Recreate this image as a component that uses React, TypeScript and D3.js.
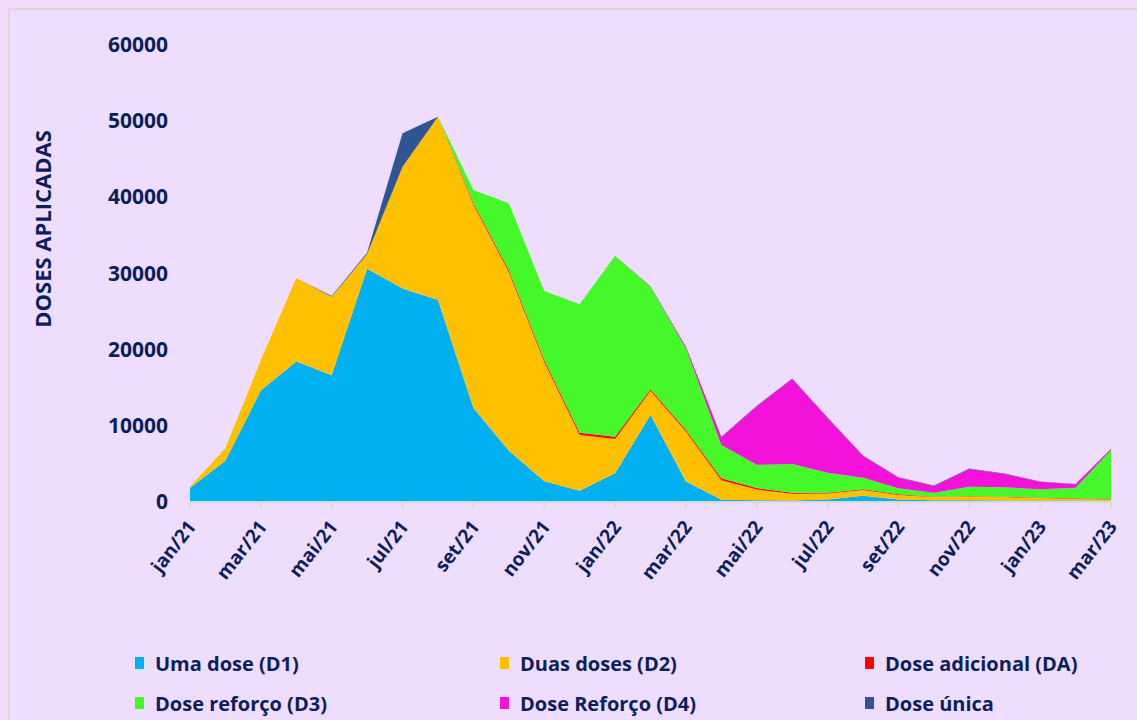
import React from "react";
import * as d3 from "d3";

const months = [
  "jan/21", "fev/21", "mar/21", "abr/21", "mai/21", "jun/21", "jul/21", "ago/21", "set/21",
  "out/21", "nov/21", "dez/21", "jan/22", "fev/22", "mar/22", "abr/22", "mai/22", "jun/22",
  "jul/22", "ago/22", "set/22", "out/22", "nov/22", "dez/22", "jan/23", "fev/23", "mar/23",
];

// doses per month
const umaDose = [1700, 5300, 14500, 18300, 16500, 30500, 27900, 26400, 12200, 6600, 2600, 1350, 3650, 11300, 2550, 150, 100, 80, 200, 700, 200, 100, 100, 80, 60, 50, 40];
const duasDoses = [180, 1620, 4000, 10940, 10330, 1930, 15990, 24060, 26690, 23480, 15660, 7320, 4490, 3170, 6570, 2580, 1400, 860, 790, 740, 600, 420, 510, 440, 320, 260, 150];
const doseAdicional = [0, 0, 0, 0, 0, 0, 0, 0, 200, 250, 250, 300, 300, 200, 200, 250, 200, 150, 100, 100, 80, 50, 50, 50, 40, 40, 30];
const doseReforco3 = [0, 0, 0, 0, 0, 0, 0, 0, 1740, 8760, 9060, 16860, 23770, 13470, 10730, 4370, 3050, 3770, 2630, 1520, 790, 520, 1220, 1230, 1110, 1400, 6480];
const doseReforco4 = [0, 0, 0, 0, 0, 0, 0, 0, 0, 0, 0, 0, 0, 50, 200, 1030, 7700, 11160, 7190, 2850, 1390, 880, 2320, 1745, 990, 440, 130];
const doseUnica = [0, 0, 0, 0, 100, 170, 4390, 0, 0, 0, 0, 0, 0, 0, 0, 60, 60, 60, 60, 50, 50, 50, 60, 50, 50, 40, 40];

const yTicks = [0, 10000, 20000, 30000, 40000, 50000, 60000];

const series = [
  { key: "d1", label: "Uma dose (D1)", color: "#00B0F0", values: umaDose },
  { key: "d2", label: "Duas doses (D2)", color: "#FFC000", values: duasDoses },
  { key: "da", label: "Dose adicional (DA)", color: "#FF0000", values: doseAdicional },
  { key: "d3", label: "Dose reforço (D3)", color: "#44F82A", values: doseReforco3 },
  { key: "d4", label: "Dose Reforço (D4)", color: "#F212DA", values: doseReforco4 },
  { key: "du", label: "Dose única", color: "#2F5597", values: doseUnica },
];

const legendOrder = ["d1", "d2", "da", "d3", "d4", "du"];

export default function App() {
  const W = 1137;
  const H = 720;
  const textColor = "#0B1F5C";
  const font = "'Open Sans', sans-serif";

  const x = d3.scaleLinear().domain([0, months.length - 1]).range([190, 1111]);
  const y = d3.scaleLinear().domain([0, 60000]).range([501, 44]);

  const table = months.map((m, i) => {
    const row: any = { month: m };
    series.forEach((s) => (row[s.key] = s.values[i]));
    return row;
  });
  const stacked = d3.stack().keys(series.map((s) => s.key))(table);

  const area = d3
    .area<any>()
    .x((_, i) => x(i))
    .y0((d) => y(d[0]))
    .y1((d) => y(d[1]));

  const legendCols = [135, 500, 865];
  const legendRows = [663, 703];

  return (
    <div style={{ position: "fixed", left: 0, top: 0, width: W, height: H }}>
      <svg width={W} height={H} style={{ display: "block" }}>
        <rect x={0} y={0} width={W} height={H} fill="#F1DAFC" />
        <rect x={9} y={9} width={W + 20} height={H + 20} fill="#EEDDFD" stroke="#D9D9D9" strokeWidth={2} />

        {stacked.map((layer, li) => (
          <path key={series[li].key} d={area(layer as any) || ""} fill={series[li].color} />
        ))}

        {/* x axis */}
        <line x1={x(0)} x2={x(months.length - 1)} y1={502} y2={502} stroke="#D9D9D9" strokeWidth={2} />
        {months.map((m, i) =>
          i % 2 === 0 ? (
            <g key={m}>
              <line x1={x(i)} x2={x(i)} y1={502} y2={508} stroke="#D9D9D9" strokeWidth={2} />
              <text
                transform={`translate(${x(i) + 3},${524}) rotate(-52)`}
                textAnchor="end"
                dominantBaseline="middle"
                fontFamily={font}
                fontWeight={700}
                fontSize={19}
                fill={textColor}
              >
                {m}
              </text>
            </g>
          ) : null
        )}

        {/* y axis labels */}
        {yTicks.map((t) => (
          <text
            key={t}
            x={168}
            y={y(t)}
            textAnchor="end"
            dominantBaseline="central"
            fontFamily={font}
            fontWeight={700}
            fontSize={21}
            fill={textColor}
          >
            {t}
          </text>
        ))}

        <text
          transform="translate(42,229) rotate(-90)"
          textAnchor="middle"
          dominantBaseline="central"
          fontFamily={font}
          fontWeight={700}
          fontSize={22}
          fill={textColor}
        >
          DOSES APLICADAS
        </text>

        {/* legend */}
        {legendOrder.map((k, i) => {
          const s = series.find((q) => q.key === k)!;
          const lx = legendCols[i % 3];
          const ly = legendRows[Math.floor(i / 3)];
          return (
            <g key={k}>
              <rect x={lx} y={ly - 6} width={9} height={12} fill={s.color} />
              <text
                x={lx + 20}
                y={ly}
                dominantBaseline="central"
                fontFamily={font}
                fontWeight={700}
                fontSize={20}
                fill={textColor}
              >
                {s.label}
              </text>
            </g>
          );
        })}
      </svg>
    </div>
  );
}
